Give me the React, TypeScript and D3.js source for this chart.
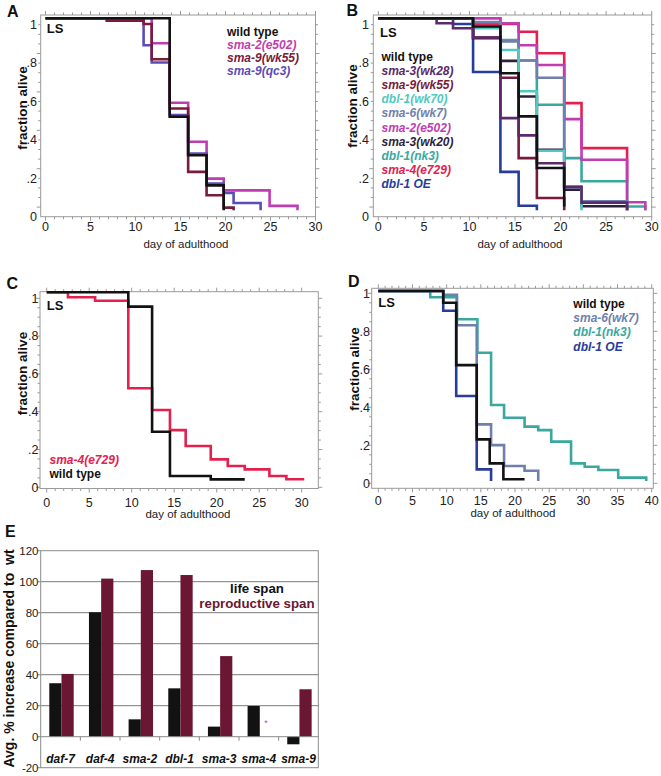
import React, { useEffect, useRef } from 'react';
import * as d3 from 'd3';

type Pt = [number, number]; // [day of adulthood, fraction alive] — value holds from that day on

// ---- Panel A
const A_WILD_TYPE: Pt[] = [[0, 1], [13.8, 0.487], [15.85, 0.287], [17.9, 0.13], [19.8, 0]];
const A_SMA2_E502: Pt[] = [[0, 1], [11.8, 0.87], [13.8, 0.56], [15.85, 0.357], [17.9, 0.165], [19.8, 0.104], [24.9, 0.023], [28.0, 0]];
const A_SMA9_WK55: Pt[] = [[0, 1], [6.8, 0.988], [10.9, 0.97], [11.8, 0.787], [13.8, 0.53], [15.85, 0.2], [17.9, 0.078], [19.8, 0.014], [20.9, 0]];
const A_SMA9_QC3: Pt[] = [[0, 1], [10.9, 0.86], [11.8, 0.77], [13.8, 0.496], [15.85, 0.296], [17.9, 0.139], [19.8, 0.09], [20.9, 0.038], [23.9, 0]];

// ---- Panel B
const B_WILD_TYPE: Pt[] = [[0, 1], [10.4, 0.957], [13.4, 0.714], [15.4, 0.489], [17.4, 0.22], [20.4, 0.02]];
const B_SMA3_WK28: Pt[] = [[0, 1], [6.4, 0.974], [8.2, 0.948], [10.4, 0.9], [13.4, 0.48], [15.4, 0.39], [17.4, 0.245], [20.4, 0.12], [22.3, 0.04], [27.3, 0]];
const B_SMA9_WK55: Pt[] = [[0, 1], [10.4, 0.9], [13.4, 0.69], [15.4, 0.272], [17.4, 0.064], [20.4, 0]];
const B_DBL1_WK70: Pt[] = [[0, 1], [10.4, 0.948], [13.4, 0.835], [15.4, 0.62], [17.4, 0.31], [20.4, 0.12], [22.3, 0]];
const B_SMA6_WK7: Pt[] = [[0, 1], [10.4, 0.98], [13.4, 0.88], [15.4, 0.78], [17.4, 0.69], [20.4, 0.125], [22.3, 0.047], [27.3, 0]];
const B_SMA2_E502: Pt[] = [[0, 1], [13.4, 0.974], [15.4, 0.86], [17.4, 0.757], [20.4, 0.475], [22.3, 0.263], [27.3, 0.042], [29.3, 0]];
const B_SMA3_WK20: Pt[] = [[0, 1], [10.4, 0.896], [13.4, 0.778], [15.4, 0.593], [17.4, 0.315], [20.4, 0.107], [22.3, 0.021], [27.3, 0]];
const B_DBL1_NK3: Pt[] = [[0, 1], [13.4, 0.887], [15.4, 0.78], [17.4, 0.55], [20.4, 0.272], [22.3, 0.151], [27.3, 0.02], [29.3, 0]];
const B_SMA4_E729: Pt[] = [[0, 1], [10.4, 0.97], [15.4, 0.93], [17.4, 0.818], [20.4, 0.558], [22.3, 0.324], [27.3, 0.15]];
const B_DBL1_OE: Pt[] = [[0, 1], [8.2, 0.97], [10.4, 0.72], [13.4, 0.2], [15.4, 0.024], [17.4, 0]];

// ---- Panel C
const C_SMA4_E729: Pt[] = [[0, 1], [2.5, 0.974], [5.7, 0.955], [9.6, 0.492], [12.4, 0.377], [14.5, 0.271], [16.35, 0.187], [19.3, 0.116], [21.3, 0.081], [23.3, 0.063], [26.2, 0.028], [28.2, 0.011], [30.3, 0.011]];
const C_WILD_TYPE: Pt[] = [[0, 1], [9.6, 0.924], [12.4, 0.262], [14.5, 0.028], [19.3, 0.01], [23.3, 0.01]];

// ---- Panel D
const D_WILD_TYPE: Pt[] = [[0, 1], [9.5, 0.938], [11.4, 0.61], [14.4, 0.219], [16.3, 0.093], [18.3, 0.009], [21.4, 0.009]];
const D_SMA6_WK7: Pt[] = [[0, 1], [9.5, 0.98], [11.5, 0.82], [14.4, 0.298], [16.5, 0.189], [18.4, 0.079], [21.4, 0.054], [23.4, 0]];
const D_DBL1_NK3: Pt[] = [[0, 1], [7.6, 0.967], [11.5, 0.851], [14.5, 0.675], [16.5, 0.4], [18.4, 0.333], [21.4, 0.286], [23.4, 0.268], [25.3, 0.207], [28.2, 0.093], [30.2, 0.075], [32.2, 0.058], [35.1, 0.018], [39.2, 0]];
const D_DBL1_OE: Pt[] = [[0, 1], [9.5, 0.896], [11.4, 0.447], [14.4, 0.061], [16.5, 0]];

// ---- Panel E
const E_GENES = ['daf-7', 'daf-4', 'sma-2', 'dbl-1', 'sma-3', 'sma-4', 'sma-9'];
const E_LIFE_SPAN = [34.5, 80.3, 11.2, 31.2, 6.5, 19.8, -4.9];
const E_REPRO_SPAN: (number | null)[] = [40.5, 102, 107.5, 104.3, 52, null, 30.6];
const E_Y_TICKS = [-20, 0, 20, 40, 60, 80, 100, 120];

const Y_TICKS = [0, 0.2, 0.4, 0.6, 0.8, 1];
const Y_TICK_LABELS = ['0', '.2', '.4', '.6', '.8', '1'];
const X_TICKS_30 = [0, 5, 10, 15, 20, 25, 30];
const X_TICKS_40 = [0, 5, 10, 15, 20, 25, 30, 35, 40];

const C = {
  black: '#121212',
  magenta: '#bf3db2',
  darkRed: '#7a1b3b',
  violet: '#5b4cb8',
  purple: '#5c2a6c',
  lightTeal: '#52c8c0',
  greyBlue: '#6f7fae',
  darkPurple: '#2e1f3c',
  teal: '#3aa89e',
  crimson: '#e2214f',
  navy: '#283c9b',
  maroon: '#6b1632',
};

const FONT = 'Liberation Sans, Arial, Helvetica, sans-serif';

interface Series { name: string; color: string; pts: Pt[] }
interface Panel {
  letter: string; letterPos: Pt;
  frame: { left: number; right: number; top: number; bottom: number };
  xMax: number; xPix: Pt; yPix: Pt; labelShift: number;
  xTicks: number[]; xLabelBase: number; yLabelRight: number;
  xTitle: Pt; yTitle: Pt; ls: Pt;
  legend: { x: number; y: number; step: number; items: Series[] };
  series: Series[]; // drawn in order
}

const aSeries: Series[] = [
  { name: 'wild type', color: C.black, pts: A_WILD_TYPE },
  { name: 'sma-2(e502)', color: C.magenta, pts: A_SMA2_E502 },
  { name: 'sma-9(wk55)', color: C.darkRed, pts: A_SMA9_WK55 },
  { name: 'sma-9(qc3)', color: C.violet, pts: A_SMA9_QC3 },
];
const bSeries: Series[] = [
  { name: 'wild type', color: C.black, pts: B_WILD_TYPE },
  { name: 'sma-3(wk28)', color: C.purple, pts: B_SMA3_WK28 },
  { name: 'sma-9(wk55)', color: C.darkRed, pts: B_SMA9_WK55 },
  { name: 'dbl-1(wk70)', color: C.lightTeal, pts: B_DBL1_WK70 },
  { name: 'sma-6(wk7)', color: C.greyBlue, pts: B_SMA6_WK7 },
  { name: 'sma-2(e502)', color: C.magenta, pts: B_SMA2_E502 },
  { name: 'sma-3(wk20)', color: C.darkPurple, pts: B_SMA3_WK20 },
  { name: 'dbl-1(nk3)', color: C.teal, pts: B_DBL1_NK3 },
  { name: 'sma-4(e729)', color: C.crimson, pts: B_SMA4_E729 },
  { name: 'dbl-1 OE', color: C.navy, pts: B_DBL1_OE },
];
const cSeries: Series[] = [
  { name: 'sma-4(e729)', color: C.crimson, pts: C_SMA4_E729 },
  { name: 'wild type', color: C.black, pts: C_WILD_TYPE },
];
const dSeries: Series[] = [
  { name: 'wild type', color: C.black, pts: D_WILD_TYPE },
  { name: 'sma-6(wk7)', color: C.greyBlue, pts: D_SMA6_WK7 },
  { name: 'dbl-1(nk3)', color: C.teal, pts: D_DBL1_NK3 },
  { name: 'dbl-1 OE', color: C.navy, pts: D_DBL1_OE },
];

const PANELS: Panel[] = [
  {
    letter: 'A', letterPos: [7, 17],
    frame: { left: 40.7, right: 315.5, top: 15, bottom: 216.7 },
    xMax: 30, xPix: [45.5, 315.5], yPix: [210.3, 18.3], labelShift: 6.4,
    xTicks: X_TICKS_30, xLabelBase: 230.5, yLabelRight: 37,
    xTitle: [186, 248], yTitle: [22.5, 108], ls: [46.7, 33],
    legend: { x: 227, y: 35.5, step: 13, items: aSeries },
    series: [aSeries[1], aSeries[3], aSeries[2], aSeries[0]],
  },
  {
    letter: 'B', letterPos: [346.5, 15.5],
    frame: { left: 373.3, right: 651.7, top: 15, bottom: 216.7 },
    xMax: 30, xPix: [378.3, 651.7], yPix: [210.3, 18.3], labelShift: 6.4,
    xTicks: X_TICKS_30, xLabelBase: 230.5, yLabelRight: 369,
    xTitle: [520, 248], yTitle: [352.5, 106], ls: [380, 36.7],
    legend: { x: 381.5, y: 61, step: 14.1, items: bSeries },
    series: bSeries.slice().reverse(),
  },
  {
    letter: 'C', letterPos: [6.5, 288.5],
    frame: { left: 40, right: 318.3, top: 291.7, bottom: 488.5 },
    xMax: 30, xPix: [46.7, 301.7], yPix: [481.3, 292.3], labelShift: 6,
    xTicks: X_TICKS_30, xLabelBase: 506.5, yLabelRight: 38.5,
    xTitle: [188, 518], yTitle: [22.5, 373.5], ls: [46.7, 310],
    legend: { x: 49.5, y: 464, step: 14.3, items: cSeries },
    series: [cSeries[0], cSeries[1]],
  },
  {
    letter: 'D', letterPos: [348, 287],
    frame: { left: 371.7, right: 653.3, top: 288.3, bottom: 488.3 },
    xMax: 40, xPix: [378.3, 651.7], yPix: [481, 291], labelShift: 2.3,
    xTicks: X_TICKS_40, xLabelBase: 505, yLabelRight: 370,
    xTitle: [513, 517], yTitle: [354, 369], ls: [378.3, 306.7],
    legend: { x: 573.3, y: 308, step: 14.2, items: dSeries },
    series: [dSeries[2], dSeries[1], dSeries[3], dSeries[0]],
  },
];

type Sel = d3.Selection<SVGSVGElement, unknown, null, undefined>;

function drawSurvival(svg: Sel, p: Panel) {
  const g = svg.append('g');
  const x = d3.scaleLinear().domain([0, p.xMax]).range(p.xPix);
  const y = d3.scaleLinear().domain([0, 1]).range(p.yPix);
  const yl = (v: number) => y(v) + p.labelShift;
  const f = p.frame;
  const axisCol = '#9a9a9a';

  g.append('rect')
    .attr('x', f.left).attr('y', f.top)
    .attr('width', f.right - f.left).attr('height', f.bottom - f.top)
    .attr('fill', 'none').attr('stroke', axisCol).attr('stroke-width', 1);

  // minor / major ticks on all four sides
  d3.range(0, p.xMax + 0.001, 1)
    .filter((d) => x(d) >= f.left - 0.5 && x(d) <= f.right + 0.5)
    .forEach((d) => {
      const len = d % 5 === 0 ? 4 : 2.5;
      g.append('line').attr('x1', x(d)).attr('x2', x(d)).attr('y1', f.bottom).attr('y2', f.bottom + len)
        .attr('stroke', axisCol).attr('stroke-width', 1);
      g.append('line').attr('x1', x(d)).attr('x2', x(d)).attr('y1', f.top).attr('y2', f.top - len)
        .attr('stroke', axisCol).attr('stroke-width', 1);
    });
  d3.range(0, 1.0001, 0.05)
    .filter((v) => yl(v) >= f.top && yl(v) <= f.bottom)
    .forEach((v, i) => {
      const len = i % 4 === 0 ? 4 : 2.5;
      g.append('line').attr('x1', f.left).attr('x2', f.left - len).attr('y1', yl(v)).attr('y2', yl(v))
        .attr('stroke', axisCol).attr('stroke-width', 1);
      g.append('line').attr('x1', f.right).attr('x2', f.right + len).attr('y1', yl(v)).attr('y2', yl(v))
        .attr('stroke', axisCol).attr('stroke-width', 1);
    });

  // tick labels
  g.selectAll('.xl').data(p.xTicks).enter().append('text')
    .attr('x', (d) => x(d)).attr('y', p.xLabelBase)
    .attr('text-anchor', 'middle').attr('font-family', FONT).attr('font-size', 12.5).attr('fill', '#222')
    .text((d) => String(d));
  g.selectAll('.yl').data(Y_TICKS).enter().append('text')
    .attr('x', p.yLabelRight).attr('y', (d) => yl(d))
    .attr('dy', '0.35em').attr('text-anchor', 'end')
    .attr('font-family', FONT).attr('font-size', 12.5).attr('fill', '#222')
    .text((_, i) => Y_TICK_LABELS[i]);

  // titles
  g.append('text').attr('x', p.xTitle[0]).attr('y', p.xTitle[1]).attr('text-anchor', 'middle')
    .attr('font-family', FONT).attr('font-size', 11.5).attr('fill', '#222').text('day of adulthood');
  g.append('text')
    .attr('transform', `translate(${p.yTitle[0]},${p.yTitle[1]}) rotate(-90)`)
    .attr('dy', '0.35em').attr('text-anchor', 'middle')
    .attr('font-family', FONT).attr('font-size', 13.5).attr('font-weight', 'bold').attr('fill', '#111')
    .text('fraction alive');
  g.append('text').attr('x', p.letterPos[0]).attr('y', p.letterPos[1])
    .attr('font-family', FONT).attr('font-size', 16).attr('font-weight', 'bold').attr('fill', '#111')
    .text(p.letter);

  // survival curves
  const line = d3.line<Pt>().x((d) => x(d[0])).y((d) => y(d[1])).curve(d3.curveStepAfter);
  p.series.forEach((s) => {
    g.append('path').attr('d', line(s.pts) || '')
      .attr('fill', 'none').attr('stroke', s.color).attr('stroke-width', 2.6)
      .attr('stroke-linejoin', 'miter').attr('stroke-linecap', 'butt');
  });

  g.append('text').attr('x', p.ls[0]).attr('y', p.ls[1])
    .attr('font-family', FONT).attr('font-size', 13).attr('font-weight', 'bold').attr('fill', '#111')
    .text('LS');

  p.legend.items.forEach((s, i) => {
    g.append('text').attr('x', p.legend.x).attr('y', p.legend.y + i * p.legend.step)
      .attr('font-family', FONT).attr('font-size', 12).attr('font-weight', 'bold')
      .attr('font-style', s.name === 'wild type' ? 'normal' : 'italic')
      .attr('fill', s.color).text(s.name);
  });
}

function drawBars(svg: Sel) {
  const g = svg.append('g');
  const left = 40.7, right = 318.3;
  const y = d3.scaleLinear().domain([-20, 120]).range([767.7, 550.7]);
  const x = d3.scaleBand<string>().domain(E_GENES).range([left, right]).padding(0);
  const inner = d3.scaleBand<string>().domain(['life', 'repro']).range([8.6, 33]).padding(0);
  const grid = '#8a8a8a';

  E_Y_TICKS.filter((v) => v > 0 && v < 120).forEach((v) => {
    g.append('line').attr('x1', left).attr('x2', right).attr('y1', y(v)).attr('y2', y(v))
      .attr('stroke', '#7a7a7a').attr('stroke-width', 1);
  });
  g.append('rect').attr('x', left).attr('y', y(120)).attr('width', right - left).attr('height', y(-20) - y(120))
    .attr('fill', 'none').attr('stroke', grid).attr('stroke-width', 1);

  E_GENES.forEach((gene, i) => {
    const v = E_LIFE_SPAN[i];
    g.append('rect').attr('x', (x(gene) || 0) + (inner('life') || 0)).attr('width', inner.bandwidth())
      .attr('y', y(Math.max(0, v))).attr('height', Math.abs(y(v) - y(0))).attr('fill', C.black);
    const r = E_REPRO_SPAN[i];
    if (r !== null) {
      g.append('rect').attr('x', (x(gene) || 0) + (inner('repro') || 0)).attr('width', inner.bandwidth())
        .attr('y', y(Math.max(0, r))).attr('height', Math.abs(y(r) - y(0))).attr('fill', C.maroon);
    } else {
      g.append('text').attr('x', (x(gene) || 0) + (inner('repro') || 0) + inner.bandwidth() / 2)
        .attr('y', y(0) - 11).attr('text-anchor', 'middle').attr('font-family', FONT).attr('font-size', 9)
        .attr('fill', '#b050c0').text('*');
    }
  });

  // zero axis with separators
  g.append('line').attr('x1', left).attr('x2', right).attr('y1', y(0)).attr('y2', y(0))
    .attr('stroke', grid).attr('stroke-width', 1);
  E_GENES.slice(1).forEach((gene) => {
    const bx = x(gene) || 0;
    g.append('line').attr('x1', bx).attr('x2', bx).attr('y1', y(0)).attr('y2', y(0) + 4)
      .attr('stroke', grid).attr('stroke-width', 1);
  });
  E_Y_TICKS.forEach((v) => {
    g.append('line').attr('x1', left - 3).attr('x2', left).attr('y1', y(v)).attr('y2', y(v))
      .attr('stroke', grid).attr('stroke-width', 1);
  });

  g.selectAll('.yt').data(E_Y_TICKS).enter().append('text')
    .attr('x', 38.5).attr('y', (d) => y(d)).attr('dy', '0.35em').attr('text-anchor', 'end')
    .attr('font-family', FONT).attr('font-size', 11.5).attr('fill', '#222').text((d) => String(d));
  g.selectAll('.xt').data(E_GENES).enter().append('text')
    .attr('x', (d) => (x(d) || 0) + x.bandwidth() / 2).attr('y', 763)
    .attr('text-anchor', 'middle').attr('font-family', FONT).attr('font-size', 12)
    .attr('font-weight', 'bold').attr('font-style', 'italic').attr('fill', '#111').text((d) => d);

  g.append('text').attr('x', 257).attr('y', 593.3).attr('text-anchor', 'middle')
    .attr('font-family', FONT).attr('font-size', 13.3).attr('font-weight', 'bold').attr('fill', '#111')
    .text('life span');
  g.append('text').attr('x', 257).attr('y', 608.3).attr('text-anchor', 'middle')
    .attr('font-family', FONT).attr('font-size', 13.3).attr('font-weight', 'bold').attr('fill', C.maroon)
    .text('reproductive span');

  g.append('text')
    .attr('transform', 'translate(9.2,658.5) rotate(-90)')
    .attr('dy', '0.35em').attr('text-anchor', 'middle').style('white-space', 'pre')
    .attr('font-family', FONT).attr('font-size', 14).attr('font-weight', 'bold').attr('fill', '#111')
    .text('Avg. % increase compared to  wt');
  g.append('text').attr('x', 5).attr('y', 537)
    .attr('font-family', FONT).attr('font-size', 16).attr('font-weight', 'bold').attr('fill', '#111')
    .text('E');
}

export default function App() {
  const svgRef = useRef<SVGSVGElement>(null);

  useEffect(() => {
    if (!svgRef.current) return;
    const svg = d3.select(svgRef.current);
    svg.selectAll('*').remove();
    PANELS.forEach((p) => drawSurvival(svg, p));
    drawBars(svg);
  }, []);

  return (
    <svg
      ref={svgRef}
      width={661}
      height={776}
      style={{ position: 'absolute', left: 0, top: 0, background: '#fff' }}
    />
  );
}
